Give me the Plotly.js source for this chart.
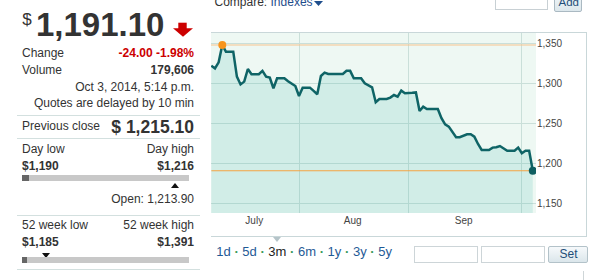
<!DOCTYPE html>
<html><head><meta charset="utf-8">
<script src="https://cdn.plot.ly/plotly-3.0.1.min.js"></script>
<style>
body{margin:0;width:597px;height:280px;overflow:hidden;background:#fff;font-family:"Liberation Sans",Arial,sans-serif;color:#333;position:relative}
.a{position:absolute;white-space:nowrap}
.a svg{display:block}
</style></head><body>
<div id="frame" class="a" style="left:211px;top:32px;width:376px;height:205px;box-sizing:border-box;border:1px solid #c9d7d9;border-left:none;">
  <div id="chart" style="position:absolute;left:0;top:0;width:375px;height:203px;"></div>
</div>
<script>
// ---------- data ----------
const startDate = '2014-07-07';
const closes = [
  1322.5, 1319, 1326.7, 1348.3, 1340, 1340, 1340,
  1308.8, 1299, 1302.5, 1318.3, 1311.7, 1311.7, 1311.7,
  1316, 1308.8, 1307.5, 1294, 1306.7, 1306.7, 1306.7,
  1303, 1300.5, 1297, 1284.6, 1295, 1295, 1295,
  1291, 1286.7, 1309.6, 1313.75, 1312, 1312, 1312,
  1312, 1312, 1316, 1316, 1306.7, 1306.7, 1306.7,
  1300.4, 1297.5, 1295.4, 1276.7, 1280.8, 1280.8, 1280.8,
  1282.5, 1285.8, 1283.75, 1291.25, 1288, 1288, 1288.5,
  1289, 1265.8, 1271.25, 1268.3, 1268.3, 1268.3, 1268.3,
  1256.7, 1249, 1246.25, 1239, 1233, 1233, 1234.5,
  1236.7, 1236.7, 1233.75, 1224.5, 1217, 1217, 1217,
  1220, 1220.5, 1222, 1219, 1216, 1216, 1216,
  1220, 1213, 1216, 1216, 1191.1
];
const gridDates = ['2014-07-31', '2014-08-30', '2014-09-30'];
const monthLabelDates = ['2014-07-18 18:00', '2014-08-14 17:00', '2014-09-14 02:00'];
const monthLabels = ['July', 'Aug', 'Sep'];
const yTicks = [1150, 1200, 1250, 1300, 1350];
const xRange = ['2014-07-06 21:50', '2014-10-03 21:00'];
const yRange = [1138.25, 1363.3];

const lastPrice = 1191.10;
const changeAbs = -24.00;
const changePct = -1.98;
const volume = 179606;
const quoteTime = 'Oct 3, 2014, 5:14 p.m.';
const prevClose = 1215.10;
const dayRange = [1190, 1216];
const openPrice = 1213.90;
const weekRange = [1185, 1391];
const periods = ['1d', '5d', '3m', '6m', '1y', '3y', '5y'];
const selectedPeriod = '3m';

// ---------- helpers ----------
function fmt(n, dec) {
  const s = Math.abs(n).toFixed(dec);
  const parts = s.split('.');
  parts[0] = parts[0].replace(/\B(?=(\d{3})+(?!\d))/g, ',');
  return (n < 0 ? '-' : '') + parts.join('.');
}
function txt(s, o) {
  const d = document.createElement('div');
  d.className = 'a';
  d.textContent = s;
  const size = o.size || 12;
  d.style.fontSize = size + 'px';
  d.style.lineHeight = size + 'px';
  d.style.top = (o.base - 0.8465 * size) + 'px';
  if (o.right != null) d.style.right = (597 - o.right) + 'px'; else d.style.left = o.left + 'px';
  if (o.bold) d.style.fontWeight = 'bold';
  if (o.color) d.style.color = o.color;
  document.body.appendChild(d);
  return d;
}
function box(x, y, w, h, css) {
  const d = document.createElement('div');
  d.className = 'a';
  d.style.cssText += css;
  d.style.left = x + 'px'; d.style.top = y + 'px';
  d.style.width = w + 'px'; d.style.height = h + 'px';
  document.body.appendChild(d);
  return d;
}
function svg(x, y, w, h, inner) {
  const d = document.createElement('div');
  d.className = 'a';
  d.style.left = x + 'px'; d.style.top = y + 'px';
  d.style.width = w + 'px'; d.style.height = h + 'px';
  d.style.lineHeight = '0';
  d.innerHTML = '<svg width="' + w + '" height="' + h + '" viewBox="0 0 ' + w + ' ' + h + '">' + inner + '</svg>';
  document.body.appendChild(d);
}

// ---------- left quote panel ----------
const R = 194, divColor = '#d3e0df';
txt('$', {left: 22.3, base: 25.5, size: 17});
txt(fmt(lastPrice, 2), {left: 36, base: 36, size: 33, bold: true});
svg(173, 22, 21, 16, '<rect x="5.3" y="0.7" width="8.4" height="6.8" fill="#cc0000"/><polygon points="0,6.3 20,6.3 10,14.7" fill="#cc0000"/>');

txt('Change', {left: 22, base: 57});
txt(fmt(changeAbs, 2) + ' ' + fmt(changePct, 2) + '%', {right: R, base: 57, bold: true, color: '#cc0000'});
txt('Volume', {left: 22, base: 74.3});
txt(fmt(volume, 0), {right: R, base: 74.3, bold: true});
txt(quoteTime, {right: R, base: 91.6});
txt('Quotes are delayed by 10 min', {right: R, base: 107});
box(17, 115, 183, 1, 'background:' + divColor);

txt('Previous close', {left: 22, base: 130.6});
txt('$ ' + fmt(prevClose, 2), {right: R, base: 134, size: 17.5, bold: true});
box(17, 138, 183, 1, 'background:' + divColor);

const barX = 21.7, barW = 167.3;
txt('Day low', {left: 22, base: 153.3});
txt('Day high', {right: R, base: 153.3});
txt('$' + fmt(dayRange[0], 0), {left: 22, base: 170, bold: true});
txt('$' + fmt(dayRange[1], 0), {right: R, base: 170, bold: true});
box(barX, 175, barW, 6, 'background:#c8c8c8');
box(barX, 175, Math.max(5, (lastPrice - dayRange[0]) / (dayRange[1] - dayRange[0]) * barW), 6, 'background:#666');
const openX = barX + (openPrice - dayRange[0]) / (dayRange[1] - dayRange[0]) * barW;
svg(openX - 4, 182.5, 8, 5, '<polygon points="0,5 8,5 4,0" fill="#111"/>');
txt('Open: ' + fmt(openPrice, 2), {right: R, base: 203.6});
box(17, 215, 183, 1, 'background:' + divColor);

txt('52 week low', {left: 22, base: 229.3});
txt('52 week high', {right: R, base: 229.3});
txt('$' + fmt(weekRange[0], 0), {left: 22, base: 246, bold: true});
txt('$' + fmt(weekRange[1], 0), {right: R, base: 246, bold: true});
const prevX = barX + (prevClose - weekRange[0]) / (weekRange[1] - weekRange[0]) * barW;
svg(prevX - 4, 252.5, 8, 5, '<polygon points="0,0 8,0 4,5" fill="#111"/>');
box(barX, 257, barW, 6, 'background:#c8c8c8');
box(barX, 257, Math.max(5, (lastPrice - weekRange[0]) / (weekRange[1] - weekRange[0]) * barW), 6, 'background:#666');
box(17, 269, 183, 1, 'background:' + divColor);

// ---------- top controls ----------
const cmp = txt('Compare: ', {left: 214.5, base: 6, size: 12});
const ix = document.createElement('span'); ix.textContent = 'Indexes'; ix.style.color = '#1f4e8c'; cmp.appendChild(ix);
svg(314, 1, 9, 5, '<polygon points="0,0 9,0 4.5,5" fill="#1f4e8c"/>');
box(495, -10, 53, 20, 'border:1px solid #c8d0d4;box-sizing:border-box;background:#fff');
box(554, -10, 28, 22, 'border:1px solid #aab9c2;box-sizing:border-box;background:linear-gradient(#f5f9fb,#dce7ec);border-radius:2px');
txt('Add', {left: 558.5, base: 7, size: 11.5, color: '#1f4e79'});

// ---------- bottom controls ----------
svg(272.5, 237, 8, 5, '<polygon points="0,0 8,0 4,5" fill="#b5c4c9"/>');
const nav = txt('', {left: 216.3, base: 256, size: 13});
periods.forEach((p, i) => {
  if (i > 0) { const s = document.createElement('span'); s.textContent = ' · '; s.style.color = '#3a9a5a'; s.style.fontWeight = 'bold'; nav.appendChild(s); }
  const s = document.createElement('span'); s.textContent = p; s.style.color = (p === selectedPeriod) ? '#222' : '#1f5a96'; nav.appendChild(s);
});
box(414, 246, 64, 17, 'border:1px solid #cdd5d8;box-sizing:border-box;background:#fff');
box(481, 246, 64, 17, 'border:1px solid #cdd5d8;box-sizing:border-box;background:#fff');
box(548, 246, 40, 17, 'border:1px solid #b3c2c9;box-sizing:border-box;background:linear-gradient(#f6f9fb,#dbe6eb);border-radius:2px');
txt('Set', {left: 559.5, base: 258.5, size: 12, color: '#1f4e79'});
box(583, 271, 1, 9, 'background:#cfd6d8');

// ---------- chart ----------
const dates = closes.map((_, i) => {
  const d = new Date(startDate + 'T00:00:00Z');
  d.setUTCDate(d.getUTCDate() + i);
  return d.toISOString().slice(0, 10);
});
const maxVal = Math.max(...closes);
const maxIdx = closes.indexOf(maxVal);
const lastIdx = closes.length - 1;

const gridColor = '#cadfd9';
const traces = [
  {x: dates, y: closes, type: 'scatter', mode: 'lines', xaxis: 'x', yaxis: 'y',
   line: {color: '#0f6466', width: 2.5}, fill: 'tozeroy', fillcolor: 'rgba(65,181,170,0.16)', hoverinfo: 'skip'},
  {x: xRange, y: [maxVal, maxVal], type: 'scatter', mode: 'lines', xaxis: 'x2', yaxis: 'y',
   line: {color: '#f7c48e', width: 1}, hoverinfo: 'skip'},
  {x: [dates[0], dates[lastIdx]], y: [closes[lastIdx], closes[lastIdx]], type: 'scatter', mode: 'lines', xaxis: 'x2', yaxis: 'y',
   line: {color: '#f5a342', width: 1.2}, hoverinfo: 'skip'},
  {x: [dates[maxIdx]], y: [maxVal], type: 'scatter', mode: 'markers', xaxis: 'x2', yaxis: 'y',
   marker: {color: '#f7941d', size: 8}, hoverinfo: 'skip'},
  {x: [dates[lastIdx]], y: [closes[lastIdx]], type: 'scatter', mode: 'markers', xaxis: 'x2', yaxis: 'y',
   marker: {color: '#0f5f61', size: 8}, hoverinfo: 'skip'}
];
const fontFam = '"Liberation Sans", Arial, sans-serif';
const layout = {
  width: 375, height: 203,
  margin: {l: 0, r: 50, t: 0, b: 23, pad: 0},
  paper_bgcolor: '#ffffff', plot_bgcolor: '#eef8f3',
  showlegend: false,
  font: {family: fontFam, size: 10, color: '#444'},
  xaxis: {type: 'date', range: xRange, tickmode: 'array', tickvals: gridDates, ticktext: gridDates.map(() => ''),
          showgrid: true, gridcolor: gridColor, gridwidth: 1, ticks: '', showline: false, zeroline: false, fixedrange: true},
  xaxis2: {type: 'date', range: xRange, overlaying: 'x', side: 'bottom', tickmode: 'array', tickvals: monthLabelDates, ticktext: monthLabels,
           showgrid: false, ticks: '', showline: false, zeroline: false, fixedrange: true,
           tickfont: {family: fontFam, size: 10, color: '#444'}},
  yaxis: {side: 'right', range: yRange, tickmode: 'array', tickvals: yTicks, tickformat: ',d',
          showgrid: true, gridcolor: gridColor, gridwidth: 1, ticks: '', showline: false, zeroline: false, fixedrange: true,
          tickfont: {family: fontFam, size: 10, color: '#444'}}
};
Plotly.newPlot('chart', traces, layout, {displayModeBar: false, staticPlot: true});
</script>
</body></html>
